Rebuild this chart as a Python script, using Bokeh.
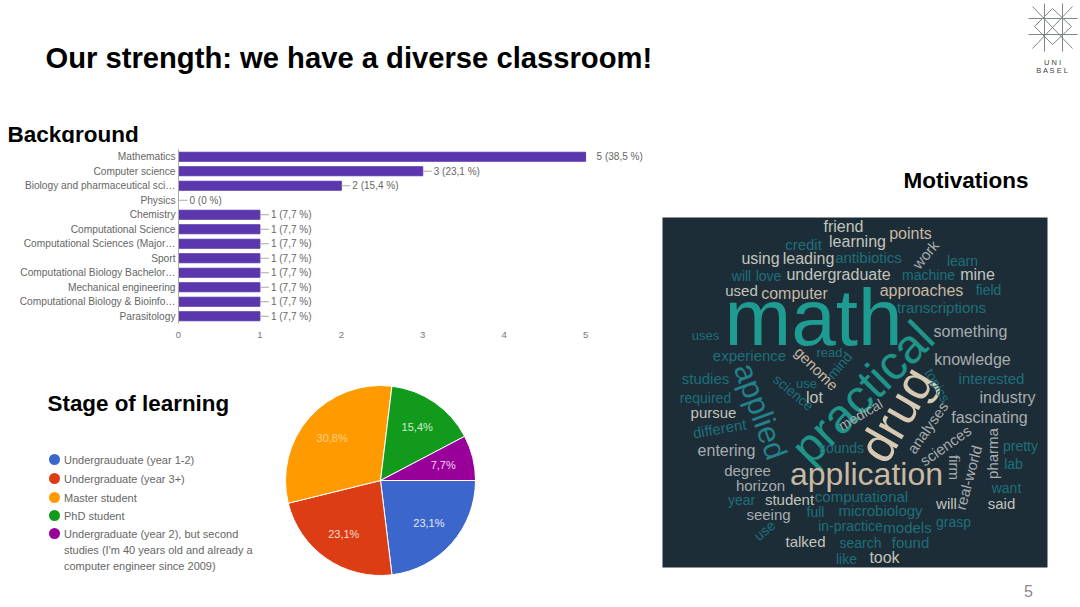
import numpy as np
from bokeh.embed import file_html
from bokeh.resources import INLINE
from bokeh.plotting import figure
from bokeh.layouts import column, row
from bokeh.models import Range1d, FactorRange, FixedTicker, ColumnDataSource
from bokeh.core.properties import value

FONT = "Liberation Sans"
TITLE = "Our strength: we have a diverse classroom!"
BAR_HEADING = "Background"
PIE_HEADING = "Stage of learning"
CLOUD_HEADING = "Motivations"
PAGE_NUMBER = "5"

bar_categories = ["Mathematics", "Computer science", "Biology and pharmaceutical sci…", "Physics",
                  "Chemistry", "Computational Science", "Computational Sciences (Major…", "Sport",
                  "Computational Biology Bachelor…", "Mechanical engineering",
                  "Computational Biology & Bioinfo…", "Parasitology"]
bar_values = [5, 3, 2, 0, 1, 1, 1, 1, 1, 1, 1, 1]
bar_labels = ["5 (38,5 %)", "3 (23,1 %)", "2 (15,4 %)", "0 (0 %)", "1 (7,7 %)", "1 (7,7 %)",
              "1 (7,7 %)", "1 (7,7 %)", "1 (7,7 %)", "1 (7,7 %)", "1 (7,7 %)", "1 (7,7 %)"]
bar_ticks = [0, 1, 2, 3, 4, 5]

pie_names = ["Undergrauduate (year 1-2)", "Undergraduate (year 3+)", "Master student", "PhD student",
             "Undergraduate (year 2), but second\nstudies (I'm 40 years old and already a\ncomputer engineer since 2009)"]
pie_values = [3, 3, 4, 2, 1]
pie_labels = ["23,1%", "23,1%", "30,8%", "15,4%", "7,7%"]
pie_colors = ["#3b66cc", "#dc3d14", "#ff9a00", "#129a1c", "#990099"]
pie_label_colors = ["#e4e9f7", "#fbdcd2", "#ffd08a", "#cfeccf", "#eed5ee"]

L, D, T, G = "#c4c4bc", "#1f6f78", "#c9b9a2", "#a9acae"
cloud_words = ["friend", "learning", "points", "work", "credit", "using", "leading", "antibiotics", "learn",
               "will", "love", "undergraduate", "machine", "mine", "used", "computer", "approaches", "field",
               "transcriptions", "math", "uses", "something", "experience", "genome", "read", "knowledge",
               "interested", "studies", "applied", "practical", "drug", "science", "use", "mind", "lot",
               "topics", "industry", "required", "pursue", "medical", "analyses", "fascinating", "different",
               "sciences", "pharma", "firm", "real-world", "pretty", "lab", "entering", "sounds", "application",
               "degree", "horizon", "want", "computational", "will", "said", "year", "student", "microbiology",
               "full", "seeing", "in-practice", "grasp", "models", "use", "talked", "search", "found", "like", "took"]
cloud_x = [843, 857, 910, 925, 803, 760, 808, 868, 962, 741, 768, 838, 928, 977, 741, 794, 921, 988,
           941, 813, 705, 970, 749, 816, 829, 972, 991, 705, 760, 862, 896, 793, 806, 839, 814,
           937, 1007, 705, 713, 860, 927, 989, 719, 945, 992, 954, 968, 1020, 1013, 726, 841, 866,
           747, 760, 1006, 861, 946, 1001, 741, 789, 880, 815, 768, 850, 953, 907, 764, 805, 860, 910, 846, 884]
cloud_y = [226, 241, 233, 254, 244, 258, 258, 257, 260, 275, 275, 274, 274, 274, 290, 293, 290, 289,
           307, 317, 335, 331, 355, 368, 352, 359, 378, 378, 411, 392, 414, 392, 383, 365, 397,
           385, 397, 397, 412, 414, 427, 417, 428, 445, 453, 467, 477, 445, 463, 450, 447, 473,
           470, 485, 487, 496, 503, 503, 499, 499, 510, 511, 514, 525, 521, 527, 530, 541, 542, 542, 558, 557]
cloud_size = [16, 16, 16, 15, 15, 16, 16, 15, 14, 14, 14, 16, 14, 16, 15, 16, 16, 14,
              15, 80, 13, 16, 15, 15, 13, 16, 15, 15, 31, 48, 50, 14, 13, 14, 16,
              14, 16, 14, 15, 14, 15, 16, 15, 15, 15, 15, 15, 14, 14, 16, 14, 32,
              15, 15, 14, 15, 15, 15, 14, 15, 15, 14, 15, 14, 14, 15, 14, 15, 14, 15, 14, 16]
cloud_angle = [0, 0, 0, 50, 0, 0, 0, 0, 0, 0, 0, 0, 0, 0, 0, 0, 0, 0,
               0, 0, 0, 0, 0, -45, 0, 0, 0, 0, -70, 45, 60, -40, 0, 50, 0,
               -60, 0, 0, 0, 30, 55, 0, 10, 35, 90, -90, 75, 0, 0, 0, 0, 0,
               0, 0, 0, 0, 0, 0, 0, 0, 0, 0, 0, 0, 0, 0, 40, 0, 0, 0, 0, 0]
cloud_color = [L, L, T, G, D, L, L, D, D, D, D, L, D, L, L, T, T, D,
               D, "#1f9c92", D, G, D, T, D, G, D, D, "#26808a", "#1f9488", "#d8cab2", D, D, D, L,
               D, G, D, L, G, G, G, D, G, G, G, G, D, D, G, D, T,
               G, G, D, D, L, L, D, L, D, D, G, D, D, D, D, L, D, D, D, L]


def blank(w, h, x0, x1, y0, y1):
    p = figure(width=w, height=h, x_range=Range1d(x0, x1), y_range=Range1d(y1, y0), tools="",
               toolbar_location=None, output_backend="svg", min_border=0, outline_line_color=None)
    p.axis.visible = False
    p.grid.visible = False
    return p


def label(p, x, y, s, size, color="#000000", bold=False, align="left", base="middle"):
    p.text([x], [y], text=[s], text_font=value(FONT), text_font_size=f"{size}px", text_color=color,
           text_align=align, text_baseline=base, text_font_style="bold" if bold else "normal")


# ---- top band: slide title, logo, clipped "Background" heading
top = blank(1080, 143, 0, 1080, 0, 143)
label(top, 45, 57, TITLE, 29.2, bold=True)
label(top, 7, 134, BAR_HEADING, 22.5, bold=True)
lx = [[1028, 1077], [1028, 1077], [1044, 1044], [1062, 1062], [1032, 1072], [1032, 1072], [1034, 1052], [1052, 1071], [1034, 1052], [1052, 1071]]
ly = [[18, 18], [34, 34], [3, 51], [3, 51], [6, 48], [48, 6], [26, 8], [8, 26], [26, 44], [44, 26]]
top.multi_line(lx, ly, line_color="#7f8589", line_width=1)
label(top, 1052, 62, "U N I", 7.5, "#444444", align="center")
label(top, 1052, 70, "B A S E L", 7.5, "#444444", align="center")

# ---- bar chart
bar = figure(width=660, height=209, x_range=Range1d(0, 5.92), y_range=FactorRange(*bar_categories[::-1]),
             tools="", toolbar_location=None, output_backend="svg", min_border_left=178, min_border_right=0,
             min_border_top=6, min_border_bottom=29, outline_line_color=None)
bar.grid.visible = False
src = ColumnDataSource(dict(c=bar_categories, v=bar_values, t=bar_labels))
bar.hbar(y="c", left=0, right="v", height=0.62, source=src, color="#5b37ae")
bar.segment(x0="d0", x1="d1", y0="c", y1="c", source=ColumnDataSource(dict(
    c=bar_categories[1:], d0=bar_values[1:], d1=[v + 0.11 for v in bar_values[1:]])), line_color="#a8a8a8", line_width=1)
bar.text(x="v", y="c", text="t", source=src, x_offset=11, text_baseline="middle", text_font=value(FONT),
         text_font_size="10px", text_color="#666666")
bar.xaxis.ticker = FixedTicker(ticks=bar_ticks)
bar.xaxis.axis_line_color = None
bar.xaxis.major_tick_line_color = None
bar.xaxis.minor_tick_line_color = None
bar.xaxis.major_tick_out = 0
bar.xaxis.major_tick_in = 0
bar.xaxis.major_label_text_font = FONT
bar.xaxis.major_label_text_font_size = "9.5px"
bar.xaxis.major_label_text_color = "#777777"
bar.xaxis.major_label_standoff = 8
bar.yaxis.axis_line_color = "#aaaaaa"
bar.yaxis.major_tick_line_color = None
bar.yaxis.minor_tick_line_color = None
bar.yaxis.major_tick_out = 0
bar.yaxis.major_tick_in = 0
bar.yaxis.major_label_text_font = FONT
bar.yaxis.major_label_text_font_size = "10.2px"
bar.yaxis.major_label_text_color = "#666666"
bar.yaxis.major_label_standoff = 3

# ---- pie chart
pie = blank(660, 255, 0, 660, 352, 607)
label(pie, 47, 403, PIE_HEADING, 22.4, bold=True)
frac = np.array(pie_values) / sum(pie_values) * 2 * np.pi
ends = np.cumsum(frac)
starts = ends - frac
mid = (starts + ends) / 2
PX, PY, PR = 380, 480, 95
pie.wedge(x=PX, y=PY, radius=PR, start_angle=-starts, end_angle=-ends, direction="clock",
          fill_color=pie_colors, line_color="#ffffff", line_width=1)
pie.text(x=PX + 0.68 * PR * np.cos(mid), y=PY + 0.68 * PR * np.sin(mid), text=pie_labels, text_align="center",
         text_baseline="middle", text_font=value(FONT), text_font_size="11px", text_color=pie_label_colors)
legend_y = [459, 478, 497, 515, 533]
pie.scatter(x=[54] * 5, y=legend_y, size=11, marker="circle", fill_color=pie_colors, line_color=None)
for yy, name in zip(legend_y, pie_names):
    for i, line in enumerate(name.split("\n")):
        label(pie, 63.5, yy + i * 16, line, 11, "#666666")

# ---- word cloud
cloud = blank(420, 464, 660, 1080, 143, 607)
label(cloud, 903, 180, CLOUD_HEADING, 22.5, bold=True)
cloud.quad(left=[662], right=[1047], top=[217], bottom=[567], fill_color="#1c2d38", line_color=None)
cloud.text(x="x", y="y", text="w", angle="a", angle_units="deg", text_color="c", text_font_size="s",
           source=ColumnDataSource(dict(x=cloud_x, y=cloud_y, w=cloud_words, a=cloud_angle, c=cloud_color,
                                        s=[f"{s}px" for s in cloud_size])),
           text_align="center", text_baseline="middle", text_font=value(FONT))
label(cloud, 1028, 590, PAGE_NUMBER, 16, "#8a8a8a", align="center")

page = column(top, row(column(row(bar), row(pie), spacing=0), cloud, spacing=0), spacing=0)
open("out.html", "w").write(file_html(page, INLINE))
